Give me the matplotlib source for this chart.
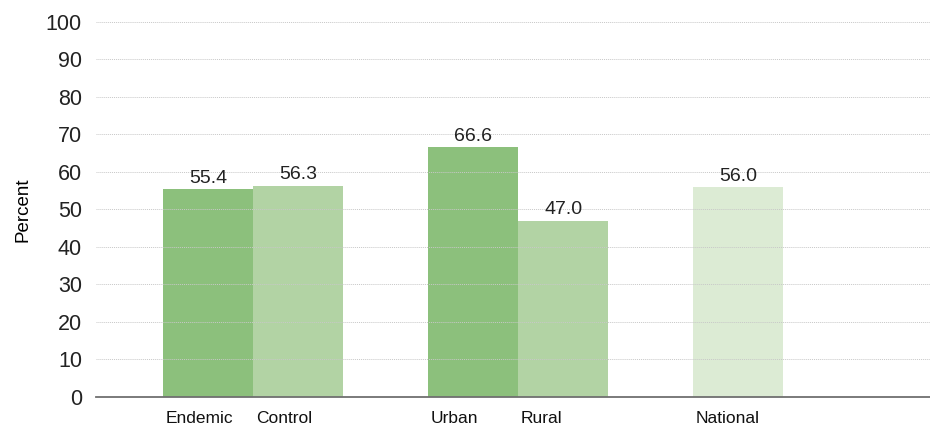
import numpy as np
import matplotlib
matplotlib.use("Agg")
import matplotlib.pyplot as plt

plt.rcParams['font.family'] = ['Liberation Sans', 'DejaVu Sans']

# Data
categories = ['Endemic', 'Control', 'Urban', 'Rural', 'National']
values = [55.4, 56.3, 66.6, 47.0, 56.0]
groups = [0, 0, 1, 1, 2]
slots = [0, 1, 0, 1, 0]
colors = ['#8cc07c', '#b2d3a4', '#8cc07c', '#b2d3a4', '#dcebd4']

bar_w = 0.34
lefts = np.array(groups) - bar_w + np.array(slots) * bar_w

fig, ax = plt.subplots(figsize=(9.3, 4.29), dpi=100)
fig.subplots_adjust(left=0.103, right=1.0, top=0.949, bottom=0.075)

bars = ax.bar(lefts, values, width=bar_w, align='edge', color=colors,
              edgecolor='none', zorder=1)

for b, v in zip(bars, values):
    ax.text(b.get_x() + b.get_width() / 2, v + 0.6, f'{v:.1f}',
            ha='center', va='bottom', fontsize=14, color='#222222')

ax.set_ylim(0, 100)
ax.set_yticks(np.arange(0, 101, 10))
ax.set_xlim(-0.593, 2.554)
ax.set_xticks(lefts + 0.01)
ax.set_xticklabels(categories, ha='left')
ax.tick_params(axis='x', length=0, pad=10, labelsize=12.5, labelcolor='#111111')
ax.tick_params(axis='y', length=0, pad=10, labelsize=15.5, labelcolor='#222222')
ax.set_ylabel('Percent', fontsize=13.5, labelpad=10)

ax.yaxis.grid(True, linestyle=(0, (1, 1)), color='#c8c8c8', linewidth=0.7, zorder=2)
ax.set_axisbelow(False)
for s in ['top', 'right', 'left']:
    ax.spines[s].set_visible(False)
ax.spines['bottom'].set_color('#707070')
ax.spines['bottom'].set_linewidth(1.3)

fig.savefig('out.png', dpi=100)
